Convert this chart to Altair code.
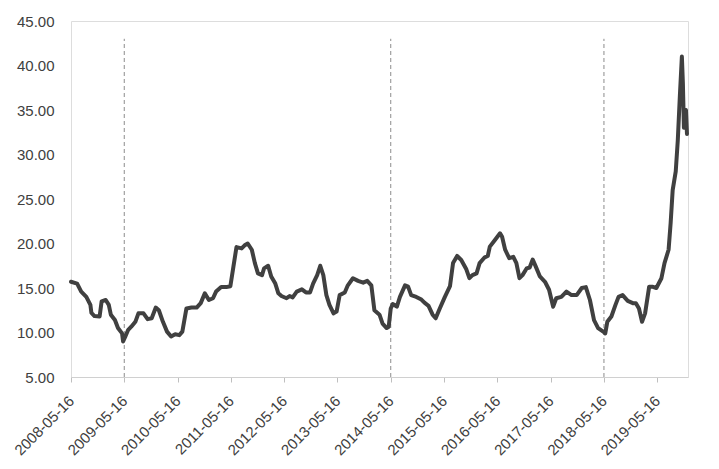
import altair as alt
import numpy as np
import pandas as pd

# Week offsets from 2008-05-16 and series values
weeks = [0, 6, 10, 15, 19, 20, 23, 28, 30, 34, 37, 39, 43, 46, 50, 51, 53, 56, 59, 63,
         66, 71, 75, 79, 83, 86, 90, 94, 98, 102, 106, 109, 113, 118, 123, 127, 131, 135, 139, 142,
         147, 152, 156, 159, 162, 167, 170, 173, 177, 180, 183, 187, 189, 193, 196, 200, 203, 206, 211, 214,
         217, 221, 226, 230, 234, 237, 241, 244, 247, 250, 253, 257, 260, 263, 268, 271, 276, 281, 286, 290,
         294, 297, 302, 305, 309, 311, 313, 315, 319, 322, 327, 330, 333, 338, 343, 346, 350, 354, 357, 361,
         366, 371, 374, 378, 382, 387, 390, 393, 397, 400, 405, 408, 410, 415, 420, 422, 425, 429, 433, 436,
         439, 442, 446, 449, 452, 455, 459, 464, 468, 472, 475, 480, 485, 490, 495, 500, 504, 508, 512, 516,
         521, 523, 525, 529, 533, 536, 540, 545, 550, 553, 556, 559, 562, 566, 569, 573, 578, 581, 585, 587,
         589, 592, 594, 596, 598, 599, 600, 601, 602, 603]
values = [15.7, 15.5, 14.6, 14.0, 13.1, 12.2, 11.85, 11.8, 13.5, 13.65, 13.1, 12.0, 11.4, 10.5, 9.9, 9.0, 9.5, 10.3, 10.65, 11.2,
          12.15, 12.15, 11.5, 11.6, 12.8, 12.5, 11.2, 10.1, 9.55, 9.8, 9.7, 10.1, 12.7, 12.8, 12.8, 13.3, 14.4, 13.65, 13.85, 14.6,
          15.1, 15.1, 15.2, 17.4, 19.6, 19.45, 19.8, 20.0, 19.3, 17.8, 16.65, 16.45, 17.2, 17.5, 16.3, 15.5, 14.4, 14.1, 13.85, 14.1,
          13.95, 14.6, 14.85, 14.5, 14.5, 15.5, 16.45, 17.5, 16.45, 14.2, 13.1, 12.15, 12.35, 14.2, 14.5, 15.3, 16.1, 15.8, 15.6, 15.8,
          15.3, 12.5, 12.0, 11.0, 10.5, 10.65, 12.7, 13.2, 12.9, 14.0, 15.3, 15.15, 14.2, 14.0, 13.7, 13.35, 13.0, 12.0, 11.6, 12.7,
          14.0, 15.2, 17.8, 18.6, 18.15, 17.1, 16.1, 16.45, 16.65, 17.8, 18.45, 18.6, 19.65, 20.4, 21.15, 20.75, 19.3, 18.35, 18.5, 17.8,
          16.1, 16.45, 17.2, 17.3, 18.2, 17.4, 16.3, 15.7, 14.8, 12.9, 13.85, 14.0, 14.6, 14.2, 14.2, 15.0, 15.1, 13.65, 11.4, 10.5,
          10.1, 9.9, 11.2, 11.8, 13.1, 14.0, 14.2, 13.55, 13.3, 13.3, 12.7, 11.2, 12.15, 15.15, 15.15, 15.0, 16.1, 17.8, 19.3, 22.3,
          26.0, 28.1, 31.6, 36.5, 41.0, 38.0, 33.0, 34.5, 35.0, 32.3]

tick_dates = ["2008-05-16", "2009-05-16", "2010-05-16", "2011-05-16", "2012-05-16", "2013-05-16",
              "2014-05-16", "2015-05-16", "2016-05-16", "2017-05-16", "2018-05-16", "2019-05-16"]
marker_dates = ["2009-05-16", "2014-05-16", "2018-05-16"]
y_ticks = [5, 10, 15, 20, 25, 30, 35, 40, 45]

base = pd.Timestamp("2008-05-16")
dates = base + pd.to_timedelta(np.array(weeks) * 7, unit="D")
df = pd.DataFrame({"date": dates.strftime("%Y-%m-%d"), "value": values})
end_date = (base + pd.Timedelta(days=604 * 7)).strftime("%Y-%m-%d")

def dt(s):
    y, m, d = (int(p) for p in s.split("-"))
    return alt.DateTime(year=y, month=m, date=d, utc=True)

xscale = alt.Scale(type="utc", domain=[dt("2008-05-16"), dt(end_date)])
yscale = alt.Scale(domain=[5, 45], nice=False)

line = alt.Chart(df).mark_line(color="#404040", strokeWidth=4, strokeJoin="round", strokeCap="round").encode(
    x=alt.X("date:T", scale=xscale, title=None,
            axis=alt.Axis(values=[dt(s) for s in tick_dates], format="%Y-%m-%d", labelAngle=-45,
                          labelAlign="right", labelBaseline="middle", labelPadding=16,
                          tickSize=5, tickColor="#bfbfbf", domainColor="#d0d0d0", grid=False,
                          labelFontSize=15, labelColor="#404040", labelOverlap=False)),
    y=alt.Y("value:Q", scale=yscale, title=None,
            axis=alt.Axis(values=y_ticks, format=".2f", grid=False, domain=False, ticks=False,
                          labelPadding=17, labelFontSize=15, labelColor="#404040")),
)

mk = pd.DataFrame({"date": marker_dates, "y0": [5] * 3, "y1": [43] * 3})
rules = alt.Chart(mk).mark_rule(color="#8c8c8c", strokeDash=[4, 3], strokeWidth=1).encode(
    x=alt.X("date:T", scale=xscale),
    y=alt.Y("y0:Q", scale=yscale),
    y2="y1:Q",
)

chart = alt.layer(rules, line).properties(
    width=617, height=356,
    autosize=alt.AutoSizeParams(type="none"),
    padding={"left": 63, "top": 13, "right": 15, "bottom": 90},
).configure_view(stroke=None).configure(font="Liberation Sans")

chart.save("out.html", embed_options={"renderer": "svg", "actions": False})
